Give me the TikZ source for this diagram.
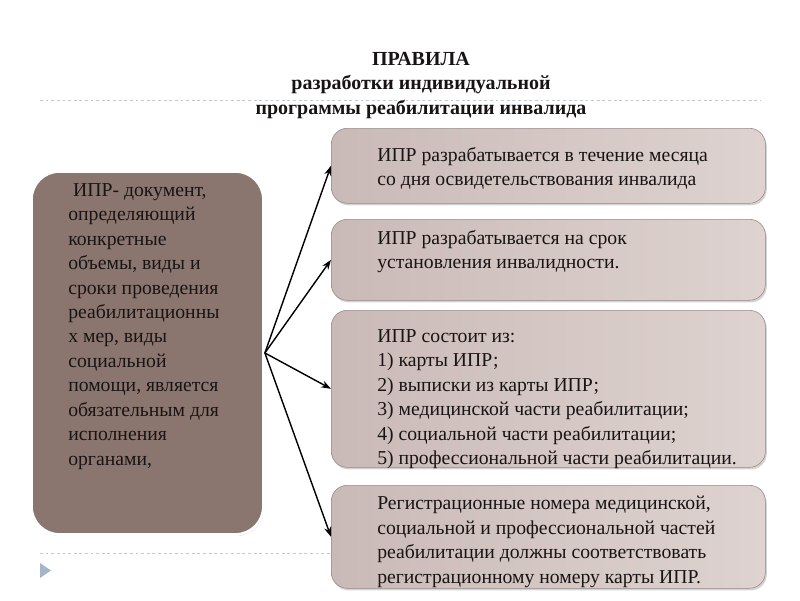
\documentclass[tikz,border=0pt]{standalone}
\usepackage{fontspec}
\setmainfont{Liberation Serif}
\usetikzlibrary{arrows.meta,shadows}

\definecolor{leftfill}{RGB}{139,118,111}
\definecolor{ruleL}{RGB}{202,186,183}
\definecolor{ruleR}{RGB}{222,211,208}
\definecolor{ruleedge}{RGB}{150,138,136}
\definecolor{guidegray}{RGB}{192,199,207}
\definecolor{marker}{RGB}{166,182,202}
\definecolor{ink}{RGB}{25,20,20}

\begin{document}
\begin{tikzpicture}[
  x=0.025cm, y=-0.025cm,
  infobox/.style={rectangle, rounded corners=0.7cm, draw=white, line width=2pt, fill=leftfill, drop shadow={shadow xshift=0.6pt, shadow yshift=-1pt, opacity=0.35}, minimum width=5.8cm, minimum height=9.075cm, anchor=north west},
  rulebox/.style={rectangle, rounded corners=0.4cm, draw=ruleedge, left color=ruleL, right color=ruleR, drop shadow={shadow xshift=1pt, shadow yshift=-1.5pt, opacity=0.35}, minimum width=10.85cm, anchor=north west},
  ruletext/.style={anchor=north west, inner sep=0pt, align=left, text=ink, font=\fontsize{14}{17.4}\selectfont},
  link/.style={-{Stealth[length=7pt,width=5pt]}, line width=1pt},
  guideline/.style={draw=guidegray, dash pattern=on 2pt off 2pt, line width=0.6pt}
]
\useasboundingbox (0,0) rectangle (800,600);

\draw[guideline] (40,100) -- (760,100);
\draw[guideline] (40,553) -- (760,553);
\fill[marker] (40,563) -- (51,570.5) -- (40,578) -- cycle;

\node[anchor=north, align=center, text=ink, font=\bfseries\fontsize{14.2}{17.4}\selectfont] (title) at (421,47)
  {ПРАВИЛА\\разработки индивидуальной\\программы реабилитации инвалида};

\node[infobox] (doc) at (30,170) {};
\node[rulebox, minimum height=1.875cm] (box1) at (331,128) {};
\node[rulebox, minimum height=2.025cm] (box2) at (331,219) {};
\node[rulebox, minimum height=3.925cm] (box3) at (331,310) {};
\node[rulebox, minimum height=2.575cm] (box4) at (331,485) {};

\node[ruletext] (doctext) at (68,183) {\ ИПР- документ,\\определяющий\\конкретные\\объемы, виды и\\сроки проведения\\реабилитационны\\х мер, виды\\социальной\\помощи, является\\обязательным для\\исполнения\\органами,};
\node[ruletext] (text1) at (377,147) {ИПР разрабатывается в течение месяца\\со дня освидетельствования инвалида};
\node[ruletext] (text2) at (377,230) {ИПР разрабатывается на срок\\установления инвалидности.};
\node[ruletext] (text3) at (377,329) {ИПР состоит из:\\1) карты ИПР;\\2) выписки из карты ИПР;\\3) медицинской части реабилитации;\\4) социальной части реабилитации;\\5) профессиональной части реабилитации.};
\node[ruletext] (text4) at (377,496) {Регистрационные номера медицинской,\\социальной и профессиональной частей\\реабилитации должны соответствовать\\регистрационному номеру карты ИПР.};

\coordinate (hub) at (doc.east);
\foreach \b in {box1,box2,box3,box4}
  \draw[link] (hub) -- (\b.west);
\end{tikzpicture}
\end{document}
